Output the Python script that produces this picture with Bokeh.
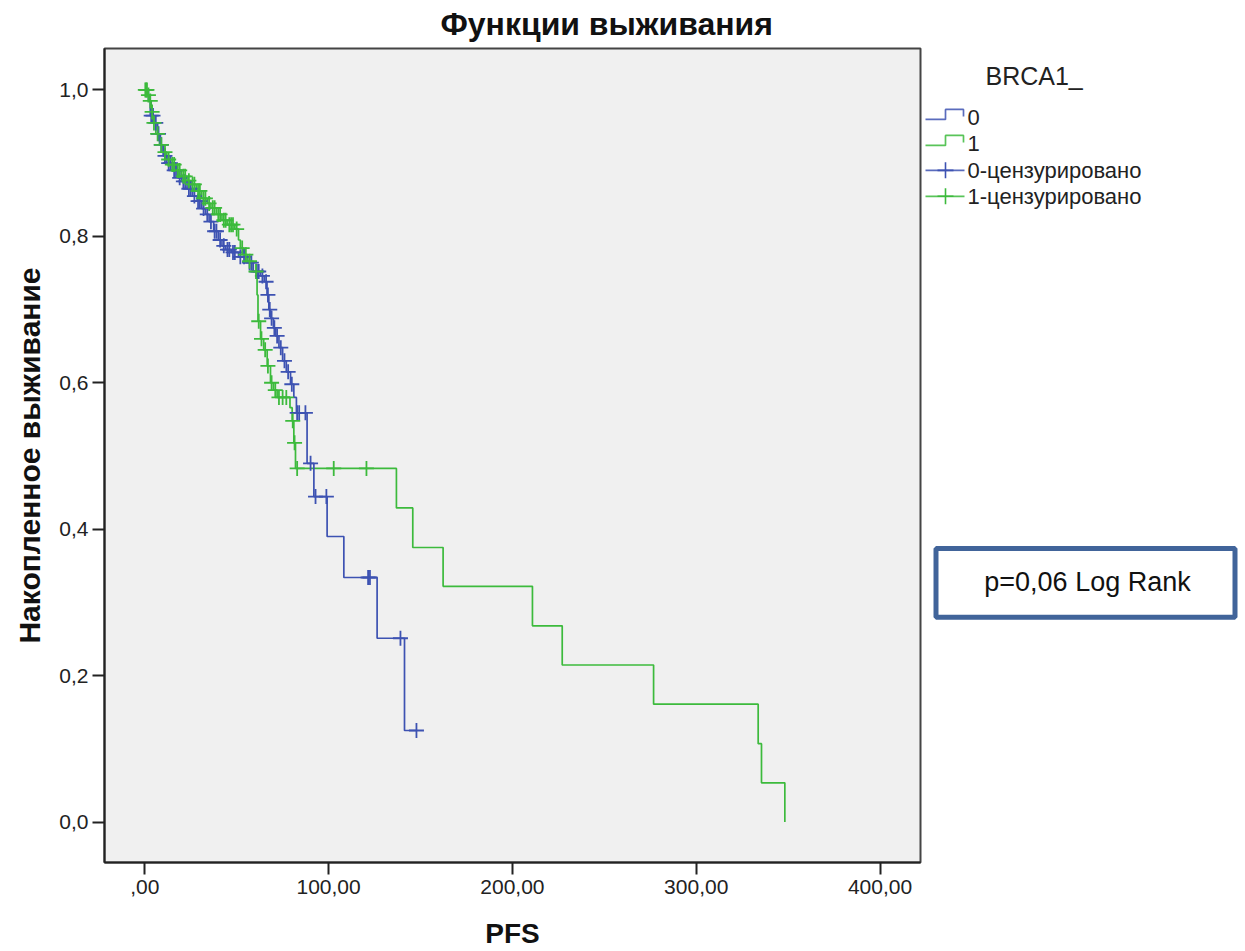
import numpy as np
from bokeh.plotting import figure
from bokeh.models import Range1d, FixedTicker
from bokeh.layouts import row
from bokeh.embed import file_html
from bokeh.resources import INLINE
from bokeh.core.properties import value

# ---------------- data ----------------
chart_title = "Функции выживания"
x_label = "PFS"
y_label = "Накопленное выживание"
legend_title = "BRCA1_"
group_labels = ["0", "1"]
censored_suffix = "-цензурировано"
p_text = "p=0,06 Log Rank"

x_ticks = [0, 100, 200, 300, 400]
x_tick_labels = [",00", "100,00", "200,00", "300,00", "400,00"]
y_ticks = [0.0, 0.2, 0.4, 0.6, 0.8, 1.0]
y_tick_labels = ["0,0", "0,2", "0,4", "0,6", "0,8", "1,0"]

# group 0 (blue): event times and survival after each event
g0_event_t = [2.0, 3.0, 5.0, 7.0, 8.5, 10, 12, 15, 18, 20, 23, 26, 28.5, 31, 33, 35,
              37.5, 40, 42, 44, 47, 51, 55, 59, 63, 65, 66.5, 67.5, 68.5, 70, 71.2,
              73, 75, 77, 79.3, 81.1, 82.5, 88.3, 92.0, 99.2, 108.3, 126.4, 141.3]
g0_event_s = [0.985, 0.965, 0.955, 0.94, 0.925, 0.91, 0.90, 0.89, 0.88, 0.875, 0.865,
              0.855, 0.848, 0.838, 0.83, 0.82, 0.807, 0.795, 0.787, 0.782, 0.778, 0.772,
              0.764, 0.752, 0.746, 0.738, 0.72, 0.70, 0.688, 0.675, 0.664, 0.648, 0.63,
              0.615, 0.598, 0.58, 0.559, 0.49, 0.4445, 0.390, 0.334, 0.251, 0.125]
g0_last_t = 147.8
g0_cens_t = [3.5, 4.5, 6, 7.5, 9, 11, 13, 14, 16, 17, 19, 21, 22, 24, 25, 27, 29, 30,
             32, 34, 36, 38, 39, 41, 43, 45, 46, 48, 49, 52, 54, 57, 58, 61, 62, 64,
             66, 67, 68, 69, 70.5, 72, 74, 76, 78, 80, 82.9, 84, 87.4, 90.2, 92.9,
             98.8, 121.5, 122.5, 139.1, 147.8]

# group 1 (green)
g1_event_t = [1.5, 2.5, 3.5, 4.5, 6, 8, 10, 12, 14, 17, 20, 23, 25, 28, 31, 34, 36,
              39, 42, 44.8, 49, 51, 52, 54, 56, 59, 61.1, 61.6, 63, 64.7, 66.6, 68.4,
              70, 72, 79, 80.2, 81.1, 82.0, 136.9, 145.8, 162.3, 210.9, 227.1, 276.8,
              333.7, 335.5, 348.2]
g1_event_s = [0.993, 0.985, 0.97, 0.955, 0.94, 0.925, 0.915, 0.905, 0.898, 0.89, 0.882,
              0.876, 0.871, 0.862, 0.852, 0.845, 0.839, 0.83, 0.822, 0.816, 0.81, 0.795,
              0.784, 0.775, 0.766, 0.752, 0.72, 0.684, 0.66, 0.645, 0.623, 0.60, 0.59,
              0.58, 0.566, 0.548, 0.518, 0.483, 0.429, 0.375, 0.322, 0.268, 0.2145,
              0.161, 0.107, 0.0536, 0.0]
g1_cens_t = [0.3, 0.8, 1.2, 2, 3, 4, 5, 7, 9, 11, 13, 15, 16, 18, 19, 21, 22, 24, 26,
             27, 29, 30, 32, 33, 35, 37, 38, 40, 41, 43, 44, 46, 47, 48, 50, 53, 55,
             57, 60.5, 62, 63.5, 65.5, 67, 69, 71, 73, 75, 77, 80.5, 81.5, 82.9,
             102.8, 120.6]

BLUE = "#3d52b2"
GREEN = "#3cba3c"
FONT = "Liberation Sans"

# frame geometry in page pixels
FR_TOP, FR_BOTTOM = 47, 862


def surv_at(times, et, es):
    et = np.asarray(et, dtype=float)
    es = np.asarray(es, dtype=float)
    idx = np.searchsorted(et, np.asarray(times, dtype=float), side="right") - 1
    return np.where(idx < 0, 1.0, es[np.clip(idx, 0, None)])


# ---------------- main figure ----------------
XR = (-21.9, 422.0)
YR = (-0.0553, 1.0566)
p = figure(width=922, height=951, x_range=Range1d(*XR), y_range=Range1d(*YR),
           output_backend="svg", toolbar_location=None, min_border_left=104,
           min_border_right=2, min_border_top=FR_TOP, min_border_bottom=951 - FR_BOTTOM)
p.background_fill_color = "#f0f0f0"
p.border_fill_color = "white"
p.outline_line_color = "#444444"
p.outline_line_width = 2
p.grid.visible = False

p.title.text = chart_title
p.title.align = "left"
p.title.offset = 336
p.title.vertical_align = "top"
p.title.text_font = FONT
p.title.text_font_size = "32px"
p.title.text_font_style = "bold"
p.title.text_color = "#111111"
p.title.text_line_height = 0.7
p.title.standoff = 10

for ax in (p.xaxis[0], p.yaxis[0]):
    ax.axis_line_width = 2
    ax.axis_line_color = "#222222"
    ax.major_tick_line_width = 2
    ax.major_tick_line_color = "#222222"
    ax.major_tick_in = 0
    ax.major_tick_out = 12
    ax.minor_tick_line_color = None
    ax.major_label_text_font = FONT
    ax.major_label_text_font_size = "21px"
    ax.major_label_text_color = "#222222"
    ax.axis_label_text_font = FONT
    ax.axis_label_text_font_style = "bold"
    ax.axis_label_text_color = "#111111"

p.xaxis.ticker = FixedTicker(ticks=x_ticks)
p.xaxis.major_label_overrides = dict(zip(x_ticks, x_tick_labels))
p.xaxis.major_label_standoff = 5
p.xaxis.axis_label = x_label
p.xaxis.axis_label_text_font_size = "28px"
p.xaxis.axis_label_text_line_height = 0.8
p.xaxis.axis_label_standoff = 21

p.yaxis.ticker = FixedTicker(ticks=y_ticks)
p.yaxis.major_label_overrides = dict(zip(y_ticks, y_tick_labels))
p.yaxis.axis_label = y_label
p.yaxis.axis_label_text_font_size = "30px"
p.yaxis.major_label_standoff = 4
p.yaxis.axis_label_standoff = 10

# step curves
p.step(x=[0.0] + g1_event_t, y=[1.0] + g1_event_s, mode="after",
       line_color=GREEN, line_width=1.7)
p.step(x=[0.0] + g0_event_t + [g0_last_t], y=[1.0] + g0_event_s + [g0_event_s[-1]],
       mode="after", line_color=BLUE, line_width=1.7)

# censor marks
p.scatter(x=g0_cens_t, y=surv_at(g0_cens_t, g0_event_t, g0_event_s), marker="cross",
          size=15, line_color=BLUE, line_width=1.8)
p.scatter(x=g1_cens_t, y=surv_at(g1_cens_t, g1_event_t, g1_event_s), marker="cross",
          size=15, line_color=GREEN, line_width=1.8)

# ---------------- legend / annotation panel (page-pixel coordinates) ----------------
q = figure(width=323, height=951, x_range=Range1d(922, 1245),
           y_range=Range1d(FR_BOTTOM, FR_TOP), output_backend="svg",
           toolbar_location=None, min_border_left=0, min_border_right=0,
           min_border_top=FR_TOP, min_border_bottom=951 - FR_BOTTOM,
           x_axis_location=None, y_axis_location=None)
q.outline_line_color = None
q.background_fill_color = "white"
q.border_fill_color = "white"
q.grid.visible = False

q.text(x=[985], y=[75], text=[legend_title], text_font=value(FONT),
       text_font_size="25px", text_baseline="middle", text_align="left",
       text_color="#222222")

entry_y = [116.5, 142.5, 169, 195]
entry_text = group_labels + [g + censored_suffix for g in group_labels]
q.text(x=[967] * 4, y=entry_y, text=entry_text, text_font=value(FONT),
       text_font_size="22px", text_baseline="middle", text_align="left",
       text_color="#222222")

for yc, col in zip(entry_y[:2], [BLUE, GREEN]):
    q.line(x=[925, 945, 945, 963, 963], y=[yc + 1.5, yc + 1.5, yc - 8.5, yc - 8.5, yc - 1.5],
           line_color=col, line_width=1.7, alpha=0.85)
for yc, col in zip(entry_y[2:], [BLUE, GREEN]):
    q.line(x=[925, 964], y=[yc, yc], line_color=col, line_width=1.7, alpha=0.85)
    q.scatter(x=[945], y=[yc], marker="cross", size=16, line_color=col, line_width=1.6)

q.quad(left=[935.5], right=[1234.5], top=[547.5], bottom=[616.5], fill_color="white",
       line_color="#41649a", line_width=5)
q.text(x=[1087], y=[581], text=[p_text], text_font=value(FONT), text_font_size="27px",
       text_baseline="middle", text_align="center", text_color="#111111")

layout = row(p, q)
open("out.html", "w").write(file_html(layout, INLINE))
